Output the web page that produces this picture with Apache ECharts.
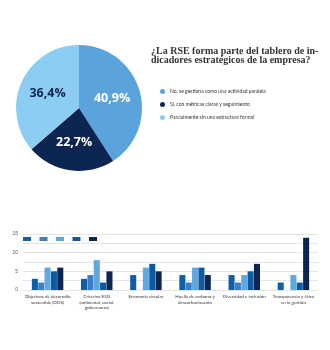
<!DOCTYPE html>
<html><head><meta charset="utf-8">
<script src="https://cdn.jsdelivr.net/npm/echarts@6/dist/echarts.min.js"></script>
<style>html,body{margin:0;padding:0;background:#fff}#c{width:330px;height:350px}</style>
</head><body><div id="c"></div>
<script>
const titleLines = ['¿La RSE forma parte del tablero de in-', 'dicadores estratégicos de la empresa?'];
const pieNames = ['No, se gestiona como una actividad paralela', 'Sí, con métricas claras y seguimiento', 'Parcialmente sin una estructura formal'];
const pieValues = [40.9, 22.7, 36.4];
const pieColors = ['#5aa3dc', '#0c2651', '#8ccdf3'];

const categories = ['Objetivos de desarrollo\nsostenible (ODS)', 'Criterios ESG\n(ambiental, social,\ngobernanza)', 'Economía circular', 'Huella de carbono y\ndescarbonización', 'Diversidad e inclusión', 'Transparencia y ética\nen la gestión'];
const seriesNames = ['Serie 1', 'Serie 2', 'Serie 3', 'Serie 4', 'Serie 5'];
const s1 = [3, 3, 4, 4, 4, 2];
const s2 = [2, 4, 0, 2, 2, 0];
const s3 = [6, 8, 6, 6, 4, 4];
const s4 = [5, 2, 7, 6, 5, 2];
const s5 = [6, 5, 5, 4, 7, 14];
const barValues = [s1, s2, s3, s4, s5];
const barColors = ['#0f5fa8', '#3d7fc4', '#5fa8e0', '#0e5aa0', '#0b2650'];
const yTicks = [0, 5, 10, 15];

const chart = echarts.init(document.getElementById('c'), null, {renderer: 'canvas'});
const barSeries = seriesNames.map((n, i) => ({
  name: n, type: 'bar', data: barValues[i], itemStyle: {color: barColors[i]},
  barGap: '5%', barCategoryGap: '36%', emphasis: {disabled: true}
}));
chart.setOption({
  animation: false,
  title: {
    text: titleLines.join('\n'), left: 146, top: 42,
    textStyle: {fontFamily: 'Liberation Serif', fontWeight: 'bold', fontSize: 10, color: '#333', lineHeight: 9}
  },
  legend: [
    {
      data: pieNames, orient: 'vertical', left: 155, top: 84, itemWidth: 5, itemHeight: 5, itemGap: 8,
      icon: 'circle', textStyle: {fontSize: 5, color: '#333', fontFamily: 'Lato'}, selectedMode: false
    },
    {
      data: seriesNames, left: 18, top: 232, itemWidth: 8, itemHeight: 4, itemGap: 8.5,
      icon: 'rect', formatter: () => '', selectedMode: false
    }
  ],
  grid: {left: 23, right: 12, top: 234, height: 56, containLabel: false},
  xAxis: {
    type: 'category', data: categories,
    axisLine: {show: false}, axisTick: {show: false},
    axisLabel: {fontSize: 4.5, color: '#333', lineHeight: 5.5, margin: 4, interval: 0, fontFamily: 'Lato'}
  },
  yAxis: {
    type: 'value', min: 0, max: 15, interval: 2.5,
    axisLine: {show: false}, axisTick: {show: false},
    axisLabel: {fontSize: 5, color: '#555', margin: 5, formatter: v => yTicks.includes(v) ? String(v) : ''},
    splitLine: {lineStyle: {color: '#e4e4e4', width: 1}}
  },
  series: [
    {
      type: 'pie', center: [79, 108], radius: 63, startAngle: 90, clockwise: true,
      data: pieNames.map((n, i) => ({name: n, value: pieValues[i], itemStyle: {color: pieColors[i]},
        label: {color: i === 2 ? '#0c2651' : '#fff'}})),
      label: {show: true, position: 'inside', formatter: p => p.value.toFixed(1).replace('.', ',') + '%',
        fontSize: 12.5, fontWeight: 'bold', fontFamily: 'Open Sans'},
      labelLine: {show: false}, emphasis: {disabled: true}
    },
    ...barSeries
  ]
});
</script></body></html>
